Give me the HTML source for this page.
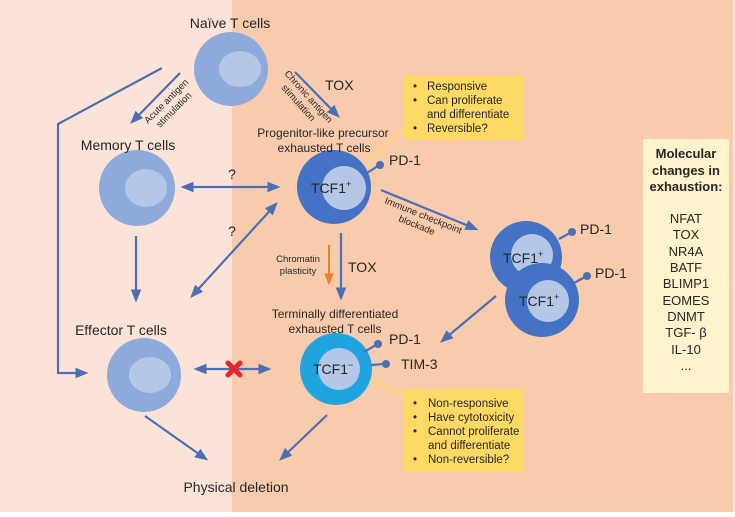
<!DOCTYPE html>
<html><head><meta charset="utf-8"><style>
html,body{margin:0;padding:0;}
body{width:735px;height:512px;overflow:hidden;font-family:"Liberation Sans","DejaVu Sans",sans-serif;}
text{font-family:"Liberation Sans","DejaVu Sans",sans-serif;fill:#262626;}
</style></head><body>
<svg width="735" height="512" viewBox="0 0 735 512" xmlns="http://www.w3.org/2000/svg">
<defs>
<marker id="a" viewBox="0 0 10 10" refX="8" refY="5" markerWidth="6" markerHeight="6" orient="auto-start-reverse"><path d="M0,1 L10,5 L0,9 z" fill="#4a6fb5"/></marker>
<marker id="o" viewBox="0 0 10 10" refX="8" refY="5" markerWidth="6" markerHeight="6" orient="auto"><path d="M0,1 L10,5 L0,9 z" fill="#ed7d31"/></marker>
</defs>
<rect width="735" height="512" fill="#f8cbad"/>
<rect width="232" height="512" fill="#fbe4d7"/>
<rect x="733" width="2" height="512" fill="#fbe4d7"/>
<g stroke="#4a6fb5" stroke-width="2.2" fill="none">
<polyline points="162,68 58,124 58,373 86,373" marker-end="url(#a)"/>
<line x1="180" y1="73" x2="132" y2="122" marker-end="url(#a)"/>
<line x1="295" y1="72" x2="338" y2="116" marker-end="url(#a)"/>
<line x1="183" y1="187" x2="278" y2="187" marker-start="url(#a)" marker-end="url(#a)"/>
<line x1="192" y1="296" x2="276" y2="204" marker-start="url(#a)" marker-end="url(#a)"/>
<line x1="136" y1="236" x2="136" y2="300" marker-end="url(#a)"/>
<line x1="341" y1="233" x2="341" y2="298" marker-end="url(#a)"/>
<line x1="381" y1="190" x2="476" y2="229" marker-end="url(#a)"/>
<line x1="496" y1="296" x2="442" y2="341" marker-end="url(#a)"/>
<line x1="196" y1="369" x2="269" y2="369" marker-start="url(#a)" marker-end="url(#a)"/>
<line x1="145" y1="416" x2="206" y2="459" marker-end="url(#a)"/>
<line x1="327" y1="415" x2="281" y2="459" marker-end="url(#a)"/>
</g>
<line x1="329" y1="245" x2="329" y2="283" stroke="#ed7d31" stroke-width="2" marker-end="url(#o)"/>
<line x1="367" y1="160" x2="404" y2="130" stroke="#ffd966" stroke-width="2"/>
<line x1="370" y1="380" x2="404" y2="395" stroke="#ffd966" stroke-width="2"/>
<rect x="404" y="76" width="120" height="64" fill="#ffd966"/>
<rect x="404" y="389" width="120" height="83" fill="#ffd966"/>
<rect x="643" y="139" width="86" height="254" fill="#fff2cc"/>
<circle cx="231" cy="69" r="37" fill="#8eaadb"/><ellipse cx="240" cy="69" rx="21" ry="18" fill="#b4c7e7"/>
<circle cx="137" cy="188" r="38" fill="#8eaadb"/><ellipse cx="146" cy="188" rx="21" ry="19" fill="#b4c7e7"/>
<circle cx="144" cy="375" r="37" fill="#8eaadb"/><ellipse cx="150" cy="375" rx="21" ry="18" fill="#b4c7e7"/>
<circle cx="334" cy="187" r="37" fill="#4472c4"/><circle cx="344" cy="188" r="22" fill="#b4c7e7"/>
<circle cx="336" cy="369" r="36" fill="#1fa4e0"/><circle cx="339" cy="369" r="21" fill="#b4c7e7"/>
<circle cx="526" cy="257" r="36" fill="#4472c4"/><circle cx="532" cy="255" r="21" fill="#b4c7e7"/>
<circle cx="542" cy="300" r="37" fill="#4472c4"/><circle cx="548" cy="301" r="21" fill="#b4c7e7"/>
<g stroke="#4a6fb5" stroke-width="2.2" fill="none">
<line x1="367" y1="173" x2="378" y2="166"/><line x1="559" y1="239" x2="570" y2="233"/><line x1="574" y1="283" x2="585" y2="277"/>
<line x1="364" y1="352" x2="376" y2="345"/><line x1="371" y1="365" x2="384" y2="364"/>
</g>
<g fill="#4a6fb5">
<circle cx="380" cy="165" r="4"/><circle cx="572" cy="232" r="4"/><circle cx="587" cy="276" r="4"/><circle cx="378" cy="344" r="4"/><circle cx="386" cy="364" r="4"/>
</g>
<g stroke="#e8262e" stroke-width="5" stroke-linecap="round"><line x1="228" y1="363" x2="240" y2="375"/><line x1="240" y1="363" x2="228" y2="375"/></g>
<g font-size="14">
<text x="230" y="28" text-anchor="middle">Naïve T cells</text>
<text x="128" y="150" text-anchor="middle">Memory T cells</text>
<text x="121" y="335" text-anchor="middle">Effector T cells</text>
<text x="236" y="492" text-anchor="middle">Physical deletion</text>
<text x="325" y="90">TOX</text>
<text x="348" y="272">TOX</text>
<text x="232" y="179" text-anchor="middle">?</text>
<text x="232" y="236" text-anchor="middle">?</text>
<text x="389" y="165">PD-1</text><text x="580" y="234">PD-1</text><text x="595" y="278">PD-1</text>
<text x="389" y="344">PD-1</text><text x="401" y="369">TIM-3</text>
<text x="311" y="193">TCF1<tspan font-size="9" dy="-6">+</tspan></text>
<text x="503" y="263">TCF1<tspan font-size="9" dy="-6">+</tspan></text>
<text x="519" y="306">TCF1<tspan font-size="9" dy="-6">+</tspan></text>
<text x="313" y="374">TCF1<tspan font-size="9" dy="-6">−</tspan></text>
</g>
<g font-size="12" text-anchor="middle">
<text x="323" y="137">Progenitor-like precursor</text><text x="324" y="152">exhausted T cells</text>
<text x="335" y="318">Terminally differentiated</text><text x="335" y="333">exhausted T cells</text>
</g>
<g font-size="9.5" fill="#3a2a2a">
<text transform="translate(148,124) rotate(-45)">Acute antigen</text>
<text transform="translate(160,128) rotate(-45)">stimulation</text>
<text transform="translate(284,74) rotate(48)">Chronic antigen</text>
<text transform="translate(281,88) rotate(48)">stimulation</text>
<text transform="translate(384,203) rotate(22)">Immune checkpoint</text>
<text transform="translate(398,221) rotate(22)">blockade</text>
<text x="298" y="262" text-anchor="middle">Chromatin</text><text x="298" y="274" text-anchor="middle">plasticity</text>
</g>
<g font-size="11.5">
<text x="413" y="90">•</text><text x="427" y="90">Responsive</text>
<text x="413" y="104">•</text><text x="427" y="104">Can proliferate</text>
<text x="427" y="118">and differentiate</text>
<text x="413" y="132">•</text><text x="427" y="132">Reversible?</text>
<text x="413" y="407">•</text><text x="428" y="407">Non-responsive</text>
<text x="413" y="421">•</text><text x="428" y="421">Have cytotoxicity</text>
<text x="413" y="435">•</text><text x="428" y="435">Cannot proliferate</text>
<text x="428" y="449">and differentiate</text>
<text x="413" y="463">•</text><text x="428" y="463">Non-reversible?</text>
</g>
<g font-size="13" text-anchor="middle">
<text x="686" y="158" font-weight="bold">Molecular</text>
<text x="686" y="175" font-weight="bold">changes in</text>
<text x="686" y="191" font-weight="bold">exhaustion:</text>
<text x="686" y="223">NFAT</text><text x="686" y="239">TOX</text><text x="686" y="256">NR4A</text>
<text x="686" y="272">BATF</text><text x="686" y="288">BLIMP1</text><text x="686" y="305">EOMES</text>
<text x="686" y="321">DNMT</text><text x="686" y="337">TGF- β</text><text x="686" y="354">IL-10</text>
<text x="686" y="370">...</text>
</g>
</svg>
</body></html>
